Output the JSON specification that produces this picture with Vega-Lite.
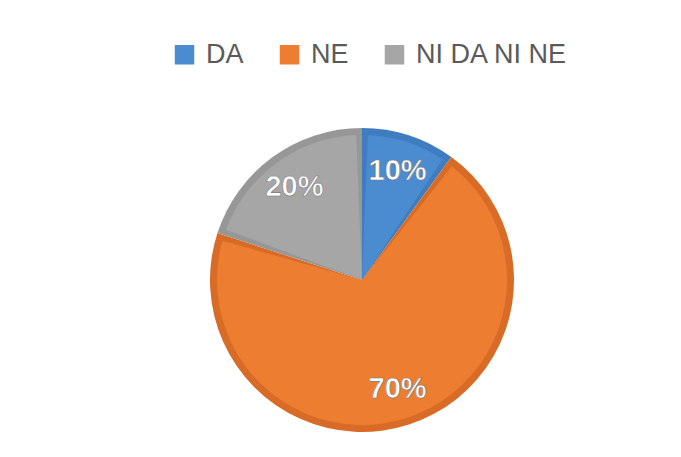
{
  "$schema": "https://vega.github.io/schema/vega-lite/v6.json",
  "autosize": {"type": "none"},
  "width": 638,
  "height": 354,
  "padding": {"left": 43, "top": 103, "right": 0, "bottom": 0},
  "background": "#ffffff",
  "config": {"view": {"stroke": null}},
  "data": {"values": [
    {"cat": "DA", "value": 10, "label": "10%"},
    {"cat": "NE", "value": 70, "label": "70%"},
    {"cat": "NI DA NI NE", "value": 20, "label": "20%"}
  ]},
  "encoding": {
    "theta": {"field": "value", "type": "quantitative", "stack": true},
    "order": {"field": "cat", "type": "ordinal", "sort": "ascending"}
  },
  "layer": [
    {
      "mark": {"type": "arc", "outerRadius": 152},
      "encoding": {
        "color": {"field": "cat", "type": "nominal", "legend": null,
          "scale": {"domain": ["DA", "NE", "NI DA NI NE"], "range": ["#3f7cc0", "#d86b25", "#979797"]}}
      }
    },
    {
      "mark": {"type": "arc", "outerRadius": 145, "padAngle": 0.08},
      "encoding": {
        "color": {"field": "cat", "type": "nominal",
          "scale": {"domain": ["DA", "NE", "NI DA NI NE"], "range": ["#4b8bd0", "#ed7d31", "#a6a6a6"]},
          "legend": {
            "title": null, "orient": "none", "direction": "horizontal",
            "legendX": 128, "legendY": -62,
            "symbolType": "square", "symbolSize": 380, "symbolStrokeWidth": 0,
            "labelFontSize": 27, "labelFont": "Liberation Sans", "labelColor": "#5a5a5a",
            "labelOffset": 8, "columnPadding": 32
          }
        }
      }
    },
    {
      "mark": {"type": "text", "radius": 115, "font": "Liberation Sans", "fontWeight": "bold", "fontSize": 29, "fill": "#ffffff", "stroke": "#7a7a7a", "strokeWidth": 0.6},
      "encoding": {
        "text": {"field": "label", "type": "nominal"}
      }
    }
  ],
  "resolve": {"scale": {"color": "independent"}}
}
